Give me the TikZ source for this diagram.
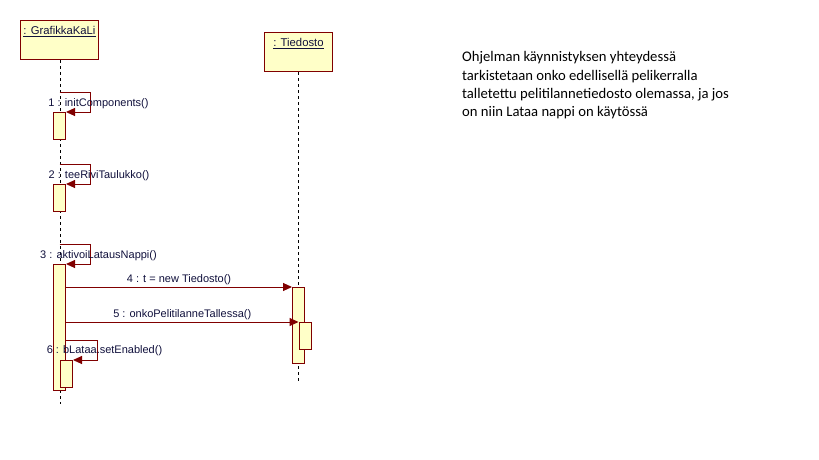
\documentclass[tikz,border=0pt]{standalone}
\usepackage{fontspec}
\setmainfont{Liberation Sans}
\newfontfamily\notefont{Carlito}
\usepackage{tikz}
\usetikzlibrary{
  	positioning,
  	arrows.meta,
  	calc
  }
\definecolor{umlred}{RGB}{128,0,0}
\definecolor{umlfill}{RGB}{255,255,200}
\definecolor{umltext}{RGB}{16,16,60}
\tikzstyle{objbox}=[rectangle,draw=umlred,fill=umlfill,line width=1pt,inner sep=0pt]
\tikzstyle{objname}=[font=\fontsize{11.3}{13}\selectfont,text=umltext,inner sep=0pt]
\tikzstyle{actbar}=[rectangle,draw=umlred,fill=umlfill,line width=1pt,minimum width=12pt,inner sep=0pt,anchor=north]
\tikzstyle{lifeline}=[black,line width=1pt,dash pattern=on 3pt off 3pt]
\tikzstyle{msg}=[umlred,line width=1pt,-{Triangle[length=9pt,width=8pt]}]
\tikzstyle{msglabel}=[font=\fontsize{11}{13}\selectfont,text=umltext,inner sep=0pt,anchor=base]

\begin{document}
\begin{tikzpicture}[x=1pt,y=-1pt]
    \useasboundingbox (0,0) rectangle (819,460);
    \node [objbox, minimum width=78pt, minimum height=39pt] (gk) at (59.5,40) {};
    \node [objname, below=14.5pt of gk.north, anchor=base] (gkname) {\underline{: GrafikkaKaLi}};
    \node [objbox, minimum width=68pt, minimum height=39pt] (td) at (298.5,52) {};
    \node [objname, below=14.5pt of td.north, anchor=base] (tdname) {\underline{: Tiedosto}};
    \draw [lifeline] (gk.south -| 60,0) -- ++(0,344);
    \draw [lifeline] (td.south) -- ++(0,309);
    % activations
    \node [actbar, minimum height=27pt] (a1) at (59.5,112) {};
    \node [actbar, minimum height=27pt] (a2) at (59.5,184) {};
    \node [actbar, minimum height=126pt] (a3) at (59.5,264) {};
    \node [actbar, minimum height=76pt] (a4) at (298.5,287) {};
    \node [actbar, minimum height=27pt] (a5) at (305,322) {};
    \node [actbar, minimum height=27pt] (a6) at (66.5,360) {};
    % self messages
    \draw [msg] ($(a1.north)+(0,-20)$) -- ++(31,0) |- (a1.north east);
    \node [msglabel] (m1) at ($(a1.north)+(39,-5.5)$) {1 : initComponents()};
    \draw [msg] ($(a2.north)+(0,-20)$) -- ++(31,0) |- (a2.north east);
    \node [msglabel] (m2) at ($(a2.north)+(39.5,-6)$) {2 : teeRiviTaulukko()};
    \draw [msg] ($(a3.north)+(0,-20)$) -- ++(31,0) |- (a3.north east);
    \node [msglabel] (m3) at ($(a3.north)+(39,-6)$) {3 : aktivoiLatausNappi()};
    \draw [msg] ($(a3.east |- a6.north)+(0,-20)$) -- ++(31,0) |- (a6.north east);
    \node [msglabel] (m6) at ($(a6.north)+(38,-6.5)$) {6 : bLataa.setEnabled()};
    % calls
    \draw [msg] (a3.east |- a4.north) -- (a4.north west)
        node [msglabel, midway, yshift=5pt] (m4) {4 : t = new Tiedosto()};
    \draw [msg] (a3.east |- a5.north) -- (a5.north west)
        node [msglabel, midway, yshift=5pt] (m5) {5 : onkoPelitilanneTallessa()};
    \node [anchor=north west, inner sep=0pt, align=left, font=\notefont\fontsize{14.67}{18.3}\selectfont] (note) at (462,51.5)
        {Ohjelman käynnistyksen yhteydessä\\tarkistetaan onko edellisellä pelikerralla\\talletettu pelitilannetiedosto olemassa, ja jos\\on niin Lataa nappi on käytössä};
    \end{tikzpicture}
\end{document}
